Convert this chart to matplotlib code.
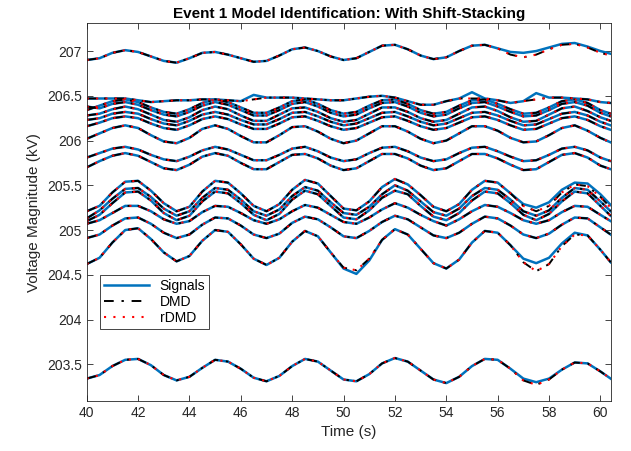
import matplotlib
matplotlib.use("Agg")
import matplotlib.pyplot as plt

plt.rcParams['font.family'] = ['Liberation Sans', 'DejaVu Sans']

# time grid (s)
time = [40.0, 40.5, 41.0, 41.5, 42.0, 42.5, 43.0, 43.5, 44.0, 44.5,
        45.0, 45.5, 46.0, 46.5, 47.0, 47.5, 48.0, 48.5, 49.0, 49.5,
        50.0, 50.5, 51.0, 51.5, 52.0, 52.5, 53.0, 53.5, 54.0, 54.5,
        55.0, 55.5, 56.0, 56.5, 57.0, 57.5, 58.0, 58.5, 59.0, 59.5,
        60.0, 60.4]

# voltage magnitudes (kV)
v_top = [206.90, 206.92, 206.98, 207.01, 206.99, 206.94, 206.89, 206.87, 206.92, 206.98,
         206.99, 206.96, 206.92, 206.88, 206.89, 206.95, 207.02, 207.04, 207.00, 206.94,
         206.90, 206.92, 206.99, 207.06, 207.07, 207.02, 206.95, 206.91, 206.93, 207.00,
         207.06, 207.07, 207.03, 206.99, 206.98, 207.00, 207.04, 207.08, 207.09, 207.05,
         207.00, 206.97]
v_a1 = [206.47, 206.47, 206.47, 206.47, 206.45, 206.43, 206.44, 206.45, 206.45, 206.46,
        206.46, 206.45, 206.44, 206.51, 206.48, 206.48, 206.48, 206.47, 206.46, 206.45,
        206.45, 206.47, 206.49, 206.50, 206.48, 206.44, 206.40, 206.40, 206.44, 206.47,
        206.54, 206.47, 206.45, 206.42, 206.44, 206.53, 206.48, 206.48, 206.47, 206.46,
        206.43, 206.42]
v_a2 = [206.38, 206.36, 206.41, 206.43, 206.40, 206.34, 206.29, 206.27, 206.32, 206.39,
        206.43, 206.40, 206.34, 206.28, 206.28, 206.34, 206.41, 206.43, 206.38, 206.31,
        206.27, 206.29, 206.36, 206.42, 206.43, 206.38, 206.31, 206.27, 206.29, 206.36,
        206.42, 206.43, 206.38, 206.32, 206.27, 206.28, 206.34, 206.41, 206.43, 206.39,
        206.31, 206.27]
v_a3 = [206.34, 206.39, 206.44, 206.46, 206.43, 206.37, 206.32, 206.30, 206.35, 206.42,
        206.46, 206.43, 206.37, 206.31, 206.31, 206.37, 206.44, 206.46, 206.41, 206.34,
        206.30, 206.32, 206.39, 206.45, 206.46, 206.41, 206.34, 206.30, 206.32, 206.39,
        206.45, 206.46, 206.41, 206.35, 206.30, 206.31, 206.37, 206.44, 206.46, 206.42,
        206.34, 206.30]
v_a4 = [206.28, 206.30, 206.35, 206.38, 206.35, 206.29, 206.23, 206.21, 206.26, 206.34,
        206.38, 206.35, 206.28, 206.22, 206.22, 206.29, 206.36, 206.37, 206.32, 206.25,
        206.21, 206.23, 206.30, 206.37, 206.37, 206.32, 206.25, 206.21, 206.23, 206.30,
        206.37, 206.38, 206.33, 206.26, 206.21, 206.22, 206.29, 206.36, 206.38, 206.33,
        206.26, 206.22]
v_a5 = [206.23, 206.25, 206.30, 206.32, 206.30, 206.24, 206.19, 206.17, 206.22, 206.29,
        206.32, 206.29, 206.23, 206.18, 206.18, 206.24, 206.31, 206.32, 206.27, 206.21,
        206.17, 206.19, 206.25, 206.31, 206.32, 206.27, 206.21, 206.17, 206.19, 206.25,
        206.31, 206.32, 206.28, 206.22, 206.17, 206.18, 206.24, 206.30, 206.32, 206.28,
        206.21, 206.17]
v_a6 = [206.16, 206.20, 206.25, 206.27, 206.25, 206.19, 206.14, 206.12, 206.17, 206.24,
        206.27, 206.24, 206.18, 206.13, 206.13, 206.19, 206.26, 206.27, 206.22, 206.16,
        206.12, 206.14, 206.20, 206.26, 206.27, 206.22, 206.16, 206.12, 206.14, 206.20,
        206.26, 206.27, 206.23, 206.17, 206.12, 206.13, 206.19, 206.25, 206.27, 206.23,
        206.16, 206.12]
v_a7 = [206.02, 206.08, 206.14, 206.17, 206.14, 206.06, 205.99, 205.97, 206.03, 206.13,
        206.17, 206.13, 206.05, 205.98, 205.98, 206.06, 206.15, 206.16, 206.10, 206.02,
        205.97, 206.00, 206.08, 206.16, 206.16, 206.10, 206.02, 205.97, 206.00, 206.08,
        206.16, 206.16, 206.11, 206.03, 205.98, 205.99, 206.06, 206.14, 206.17, 206.11,
        206.03, 205.98]
v_a8 = [205.81, 205.86, 205.91, 205.93, 205.90, 205.84, 205.79, 205.77, 205.82, 205.89,
        205.93, 205.90, 205.84, 205.78, 205.78, 205.84, 205.91, 205.93, 205.88, 205.81,
        205.77, 205.79, 205.86, 205.92, 205.93, 205.88, 205.81, 205.77, 205.79, 205.86,
        205.92, 205.93, 205.88, 205.82, 205.77, 205.78, 205.84, 205.91, 205.93, 205.89,
        205.81, 205.77]
v_a9 = [205.70, 205.77, 205.83, 205.86, 205.83, 205.76, 205.69, 205.67, 205.73, 205.82,
        205.86, 205.83, 205.75, 205.68, 205.68, 205.76, 205.84, 205.85, 205.80, 205.72,
        205.67, 205.69, 205.77, 205.85, 205.85, 205.80, 205.72, 205.67, 205.69, 205.77,
        205.85, 205.85, 205.80, 205.73, 205.67, 205.68, 205.76, 205.84, 205.86, 205.81,
        205.72, 205.68]
v_b1 = [205.21, 205.27, 205.42, 205.54, 205.55, 205.44, 205.30, 205.21, 205.26, 205.43,
        205.55, 205.53, 205.41, 205.27, 205.21, 205.29, 205.45, 205.56, 205.52, 205.38,
        205.24, 205.22, 205.32, 205.48, 205.57, 205.51, 205.39, 205.26, 205.21, 205.29,
        205.45, 205.55, 205.53, 205.41, 205.29, 205.25, 205.31, 205.45, 205.53, 205.52,
        205.40, 205.28]
v_b2 = [205.13, 205.22, 205.35, 205.46, 205.47, 205.37, 205.24, 205.16, 205.21, 205.36,
        205.47, 205.45, 205.34, 205.21, 205.16, 205.23, 205.38, 205.48, 205.44, 205.31,
        205.19, 205.17, 205.26, 205.40, 205.50, 205.44, 205.32, 205.20, 205.16, 205.24,
        205.38, 205.47, 205.45, 205.34, 205.21, 205.16, 205.22, 205.36, 205.47, 205.45,
        205.32, 205.21]
v_b3 = [205.10, 205.17, 205.30, 205.42, 205.43, 205.33, 205.19, 205.11, 205.16, 205.32,
        205.43, 205.41, 205.30, 205.17, 205.11, 205.18, 205.34, 205.44, 205.40, 205.27,
        205.14, 205.12, 205.22, 205.36, 205.44, 205.40, 205.27, 205.15, 205.11, 205.19,
        205.33, 205.43, 205.41, 205.30, 205.17, 205.11, 205.18, 205.32, 205.43, 205.41,
        205.27, 205.16]
v_b4 = [205.07, 205.11, 205.19, 205.27, 205.27, 205.21, 205.12, 205.07, 205.10, 205.20,
        205.27, 205.26, 205.19, 205.11, 205.07, 205.12, 205.21, 205.28, 205.25, 205.17,
        205.09, 205.07, 205.14, 205.23, 205.30, 205.25, 205.17, 205.10, 205.05, 205.12,
        205.21, 205.28, 205.26, 205.19, 205.11, 205.07, 205.11, 205.20, 205.27, 205.26,
        205.17, 205.10]
v_b5 = [204.91, 204.95, 205.05, 205.13, 205.14, 205.07, 204.97, 204.91, 204.95, 205.06,
        205.14, 205.13, 205.05, 204.95, 204.91, 204.96, 205.08, 205.15, 205.12, 205.03,
        204.93, 204.91, 204.99, 205.09, 205.16, 205.12, 205.03, 204.94, 204.91, 204.97,
        205.07, 205.15, 205.13, 205.05, 204.95, 204.91, 204.96, 205.06, 205.14, 205.13,
        205.03, 204.95]
v_b6 = [204.62, 204.69, 204.86, 205.00, 205.02, 204.90, 204.75, 204.65, 204.71, 204.88,
        205.00, 204.98, 204.84, 204.68, 204.61, 204.69, 204.87, 204.99, 204.93, 204.75,
        204.57, 204.51, 204.66, 204.89, 205.01, 204.95, 204.79, 204.63, 204.57, 204.67,
        204.86, 204.99, 204.97, 204.83, 204.68, 204.63, 204.69, 204.85, 204.97, 204.94,
        204.78, 204.64]
v_bottom = [203.34, 203.38, 203.48, 203.55, 203.56, 203.49, 203.38, 203.32, 203.36, 203.46,
            203.55, 203.53, 203.45, 203.35, 203.31, 203.37, 203.48, 203.56, 203.53, 203.43,
            203.33, 203.31, 203.39, 203.51, 203.57, 203.53, 203.43, 203.33, 203.29, 203.36,
            203.48, 203.56, 203.55, 203.45, 203.34, 203.30, 203.34, 203.44, 203.52, 203.51,
            203.42, 203.34]

# model fits where they visibly part from the measured signal
dmd_top = v_top[:33] + [206.96, 206.93, 206.96, 207.02, 207.07, 207.08, 207.04,
                        206.98, 206.95]
dmd_a1 = (v_a1[:13] + [206.46] + v_a1[14:30] + [206.47] + v_a1[31:35]
          + [206.46] + v_a1[36:])
dmd_b1 = v_b1[:34] + [205.27, 205.21, 205.27, 205.42, 205.51, 205.49, 205.37, 205.25]
dmd_b6 = (v_b6[:20] + [204.58, 204.55, 204.68] + v_b6[23:34]
          + [204.64, 204.54, 204.62, 204.82, 204.95] + v_b6[39:])
dmd_bottom = v_bottom[:34] + [203.32, 203.27, 203.33] + v_bottom[37:]

signals = [v_top, v_a1, v_a2, v_a3, v_a4, v_a5, v_a6, v_a7, v_a8, v_a9,
           v_b1, v_b2, v_b3, v_b4, v_b5, v_b6, v_bottom]
fits = [dmd_top, dmd_a1, v_a2, v_a3, v_a4, v_a5, v_a6, v_a7, v_a8, v_a9,
        dmd_b1, v_b2, v_b3, v_b4, v_b5, dmd_b6, dmd_bottom]

fig = plt.figure(figsize=(6.31, 4.51), dpi=100)
ax = fig.add_axes([0.1374, 0.1109, 0.8304, 0.8374])

# measured signals
for k, v in enumerate(signals):
    ax.plot(time, v, color='#0072BD', linewidth=1.8,
            label='Signals' if k == 0 else None)
# DMD reconstruction
for k, v in enumerate(fits):
    ax.plot(time, v, color='black', linestyle=(0, (5, 4, 1.2, 4)), linewidth=1.4,
            label='DMD' if k == 0 else None)
# rDMD reconstruction
for k, v in enumerate(fits):
    ax.plot(time, v, color='red', linestyle=(0, (1, 3.5)), linewidth=1.5,
            label='rDMD' if k == 0 else None)

ax.set_xlim(40, 60.4)
ax.set_ylim(203.09, 207.31)
ax.set_xticks(range(40, 61, 2))
ax.set_yticks([203.5, 204, 204.5, 205, 205.5, 206, 206.5, 207])
ax.set_yticklabels(['203.5', '204', '204.5', '205', '205.5', '206', '206.5', '207'])
ax.tick_params(direction='in', top=True, right=True, labelsize=10, colors='#262626',
               length=4, width=0.6)
for s in ax.spines.values():
    s.set_linewidth(0.6)
    s.set_color('#262626')

ax.set_xlabel('Time (s)', fontsize=11, color='#262626')
ax.set_ylabel('Voltage Magnitude (kV)', fontsize=11, color='#262626')
ax.set_title('Event 1 Model Identification: With Shift-Stacking', fontsize=11,
             fontweight='bold', pad=4)

leg = ax.legend(loc='lower left', bbox_to_anchor=(0.012, 0.172), fontsize=10,
                fancybox=False, framealpha=1, edgecolor='#262626',
                handlelength=3.2, borderpad=0.3, labelspacing=0.15)
leg.get_frame().set_linewidth(0.6)

fig.savefig('out.png', dpi=100)
